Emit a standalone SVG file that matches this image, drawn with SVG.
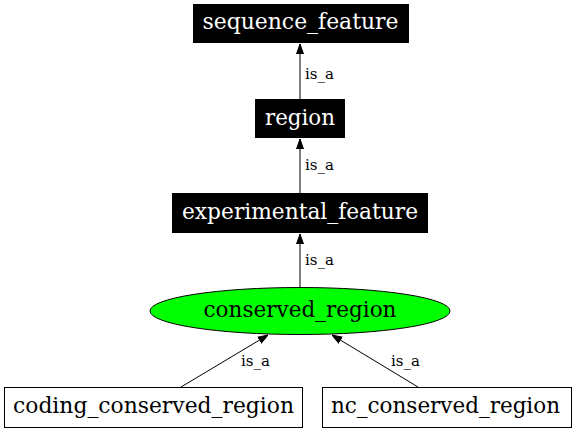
<svg xmlns="http://www.w3.org/2000/svg" width="576" height="434" viewBox="0 0 576 434">
<style>
.n{font-family:"DejaVu Serif",serif;font-size:21.5px;text-anchor:middle}
.w{fill:#ffffff}
.b{fill:#000000}
.e{font-family:"DejaVu Serif",serif;font-size:15px;fill:#000000}
.l{stroke:#000000;stroke-width:1;fill:none}
.box{fill:#000000;stroke:#000000;stroke-width:1}
.wbox{fill:#ffffff;stroke:#000000;stroke-width:1}
</style>
<defs>
<marker id="ah" markerWidth="10" markerHeight="10" refX="10" refY="5" orient="auto" markerUnits="userSpaceOnUse">
<path d="M0,1.5 L10,5 L0,8.5 Z" fill="#000000" stroke="#000000"/>
</marker>
</defs>
<rect width="576" height="434" fill="#ffffff"/>
<g id="connectors">
<line class="l" x1="300" y1="99" x2="300" y2="44" marker-end="url(#ah)"/>
<text class="e" x="305" y="79" textLength="29" lengthAdjust="spacingAndGlyphs">is_a</text>
<line class="l" x1="300" y1="193" x2="300" y2="139" marker-end="url(#ah)"/>
<text class="e" x="305" y="170" textLength="29" lengthAdjust="spacingAndGlyphs">is_a</text>
<line class="l" x1="300" y1="288" x2="300" y2="234" marker-end="url(#ah)"/>
<text class="e" x="305" y="265" textLength="29" lengthAdjust="spacingAndGlyphs">is_a</text>
<line class="l" x1="181" y1="387" x2="268" y2="335" marker-end="url(#ah)"/>
<text class="e" x="241" y="366" textLength="29" lengthAdjust="spacingAndGlyphs">is_a</text>
<line class="l" x1="418" y1="387" x2="332" y2="335" marker-end="url(#ah)"/>
<text class="e" x="391" y="366" textLength="29" lengthAdjust="spacingAndGlyphs">is_a</text>
</g>
<g id="sequence_feature">
<rect class="box" x="193.5" y="4.5" width="215" height="38"/>
<text class="n w" x="300.5" y="29" textLength="196" lengthAdjust="spacingAndGlyphs">sequence_feature</text>
</g>
<g id="region">
<rect class="box" x="255.5" y="99.5" width="89" height="38"/>
<text class="n w" x="300" y="124.5" textLength="70" lengthAdjust="spacingAndGlyphs">region</text>
</g>
<g id="experimental_feature">
<rect class="box" x="172.5" y="193.5" width="255" height="39"/>
<text class="n w" x="300" y="218.5" textLength="236" lengthAdjust="spacingAndGlyphs">experimental_feature</text>
</g>
<g id="conserved_region">
<ellipse cx="300" cy="311" rx="150" ry="23.5" fill="#00ff00" stroke="#000000"/>
<text class="n b" x="300" y="317" textLength="193" lengthAdjust="spacingAndGlyphs">conserved_region</text>
</g>
<g id="coding_conserved_region">
<rect class="wbox" x="4.5" y="387.5" width="298" height="40"/>
<text class="n b" x="153.5" y="413" textLength="281" lengthAdjust="spacingAndGlyphs">coding_conserved_region</text>
</g>
<g id="nc_conserved_region">
<rect class="wbox" x="322.5" y="387.5" width="249" height="40"/>
<text class="n b" x="445.5" y="413" textLength="229" lengthAdjust="spacingAndGlyphs">nc_conserved_region</text>
</g>
</svg>
